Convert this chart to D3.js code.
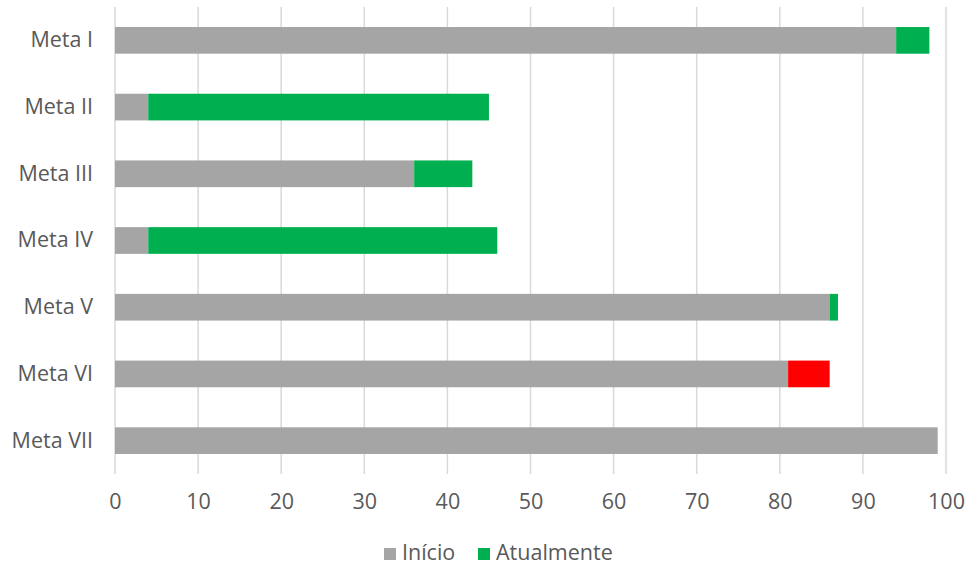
<!DOCTYPE html>
<html><head><meta charset="utf-8">
<script src="https://cdn.jsdelivr.net/npm/d3@7"></script>
<style>body{margin:0;background:#fff}svg{display:block}</style>
</head><body><svg id="c" width="967" height="567"></svg>
<script>
const categories = ["Meta I","Meta II","Meta III","Meta IV","Meta V","Meta VI","Meta VII"];
const inicio = [94, 4, 36, 4, 86, 86, 99];
const atualmente = [98, 45, 43, 46, 87, 81, 99];
const xTicks = [0,10,20,30,40,50,60,70,80,90,100];
const seriesNames = ["Início","Atualmente"];
const colors = {base:"#A5A5A5", up:"#00B050", down:"#FF0000"};
const font = "'Open Sans', sans-serif";
const fs = 21.5;
const txt = "#595959";

const svg = d3.select("#c");
const x = d3.scaleLinear().domain([0,100]).range([115,946]);
const y = d3.scaleBand().domain(categories).range([7,474]).paddingInner(0.6).paddingOuter(0.3);

svg.append("g").selectAll("line").data(xTicks).join("line")
  .attr("x1",d=>x(d)).attr("x2",d=>x(d)).attr("y1",7).attr("y2",474)
  .attr("stroke","#D9D9D9").attr("stroke-width",1.5);

const data = categories.map((c,i)=>({c, s:inicio[i], a:atualmente[i]}));
const g = svg.append("g");
g.selectAll("rect.base").data(data).join("rect").attr("class","base")
  .attr("x",x(0)).attr("y",d=>y(d.c)).attr("height",y.bandwidth())
  .attr("width",d=>x(Math.min(d.s,d.a))-x(0)).attr("fill",colors.base);
g.selectAll("rect.delta").data(data.filter(d=>d.s!==d.a)).join("rect").attr("class","delta")
  .attr("x",d=>x(Math.min(d.s,d.a))).attr("y",d=>y(d.c)).attr("height",y.bandwidth())
  .attr("width",d=>x(Math.max(d.s,d.a))-x(Math.min(d.s,d.a)))
  .attr("fill",d=>d.a>d.s?colors.up:colors.down);

const xa = svg.append("g").attr("transform","translate(0,474)")
  .call(d3.axisBottom(x).tickValues(xTicks).tickSize(0).tickPadding(20));
xa.select(".domain").remove();
xa.selectAll("text").attr("font-family",font).attr("font-size",fs).attr("fill",txt);

const ya = svg.append("g").attr("transform","translate(115,0)")
  .call(d3.axisLeft(y).tickSize(0).tickPadding(22));
ya.select(".domain").remove();
ya.selectAll("text").attr("font-family",font).attr("font-size",fs).attr("fill",txt);

const leg = svg.append("g").attr("transform","translate(0,552)");
const items = [{n:seriesNames[0],c:colors.base,x:384},{n:seriesNames[1],c:colors.up,x:478}];
items.forEach(it=>{
  leg.append("rect").attr("x",it.x).attr("y",-4).attr("width",12).attr("height",12).attr("fill",it.c);
  leg.append("text").attr("x",it.x+18).attr("y",0).attr("dy","0.35em")
    .attr("font-family",font).attr("font-size",fs).attr("fill",txt).text(it.n);
});
</script></body></html>
